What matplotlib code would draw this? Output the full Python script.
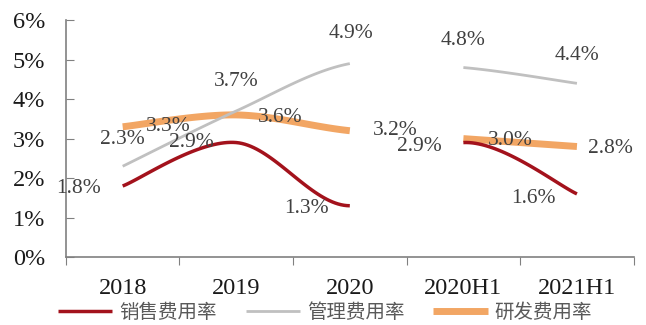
import numpy as np
import matplotlib.pyplot as plt
from matplotlib.ticker import FuncFormatter

plt.rcParams['font.family'] = ['Liberation Serif', 'Noto Sans CJK SC', 'DejaVu Sans']

categories = ['2018', '2019', '2020', '2020H1', '2021H1']
# pieces of the line that are drawn (the jump 2020 -> 2020H1 is left open)
drawn_pairs = [[(0, 1), (1, 2)], [(3, 4)]]

sales = [1.8, 2.9, 1.3, 2.9, 1.6]     # 销售费用率
admin = [2.3, 3.7, 4.9, 4.8, 4.4]     # 管理费用率
rnd = [3.3, 3.6, 3.2, 3.0, 2.8]       # 研发费用率

series_names = ['销售费用率', '管理费用率', '研发费用率']
series_vals = [sales, admin, rnd]
colors = ['#A3121C', '#C0C0C0', '#F2A664']
widths = [2.5, 2.0, 5.0]
zorders = [3, 3, 2]   # the thick R&D line sits underneath the other two

# label offsets in points (dx, dy) for every value
offsets = [
    [(-32, -1.5), (-32, 0), (-31.5, -2), (-31.5, -2.5), (-31, -3)],
    [(0, 19), (0, 21), (1, 22), (0, 19.5), (0, 20)],
    [(33, 0), (32, -1.5), (33, 0), (34, -1), (24, -1.5)],
]


def bezier_pieces(xs, ys, n=40):
    # smoothing with control points at 1/6 of neighbour spacing, one piece per pair
    pts = np.column_stack([xs, ys]).astype(float)
    ext = np.vstack([pts[0], pts, pts[-1]])
    t = np.linspace(0, 1, n)[:, None]
    pieces = {}
    for i in range(len(pts) - 1):
        p0, p1, p2, p3 = ext[i], ext[i + 1], ext[i + 2], ext[i + 3]
        c1 = p1 + (p2 - p0) / 6
        c2 = p2 - (p3 - p1) / 6
        seg = ((1 - t) ** 3) * p1 + 3 * ((1 - t) ** 2) * t * c1 + 3 * (1 - t) * t ** 2 * c2 + t ** 3 * p2
        pieces[(i, i + 1)] = seg
    return pieces


fig = plt.figure(figsize=(6.46, 3.25), dpi=100)
ax = fig.add_axes([0.102, 0.209, 0.879, 0.729])

x = np.arange(len(categories))
for name, vals, c, lw, z in zip(series_names, series_vals, colors, widths, zorders):
    pieces = bezier_pieces(x, vals)
    for k, run in enumerate(drawn_pairs):
        arr = np.vstack([pieces[p] for p in run])
        ax.plot(arr[:, 0], arr[:, 1], color=c, lw=lw, solid_capstyle='butt', zorder=z,
                label=name if k == 0 else None)

for vals, offs in zip(series_vals, offsets):
    for i, v in enumerate(vals):
        ax.annotate(f'{v:.1f}%', (x[i], v), xytext=offs[i], textcoords='offset points',
                    ha='center', va='center', fontsize=15.5, color='#404040', zorder=4)

ax.set_xlim(-0.5, len(categories) - 0.5)
ax.set_ylim(0, 6)
ax.set_yticks(range(7))
ax.yaxis.set_major_formatter(FuncFormatter(lambda v, p: f'{int(v)}%'))
ax.set_xticks(np.arange(-0.5, len(categories), 1.0))
ax.set_xticklabels([])
ax.set_xticks(x, minor=True)
ax.set_xticklabels(categories, minor=True)
ax.tick_params(axis='x', which='major', direction='out', length=6, color='#808080')
ax.tick_params(axis='x', which='minor', length=0, labelsize=17.5, pad=15, labelcolor='#1a1a1a')
ax.tick_params(axis='y', direction='in', length=6, color='#808080', labelsize=17.5,
               pad=15, labelcolor='#1a1a1a')
for s in ['top', 'right']:
    ax.spines[s].set_visible(False)
for s in ['left', 'bottom']:
    ax.spines[s].set_color('#808080')
    ax.spines[s].set_linewidth(1.2)

fig.legend(loc='center', bbox_to_anchor=(0.503, 0.04), ncol=3, frameon=False,
           prop={'family': ['Noto Sans CJK SC'], 'size': 14}, labelcolor='#595959',
           handlelength=2.8, handletextpad=0.35, columnspacing=1.5, borderpad=0)

fig.savefig('out.png', dpi=100)
